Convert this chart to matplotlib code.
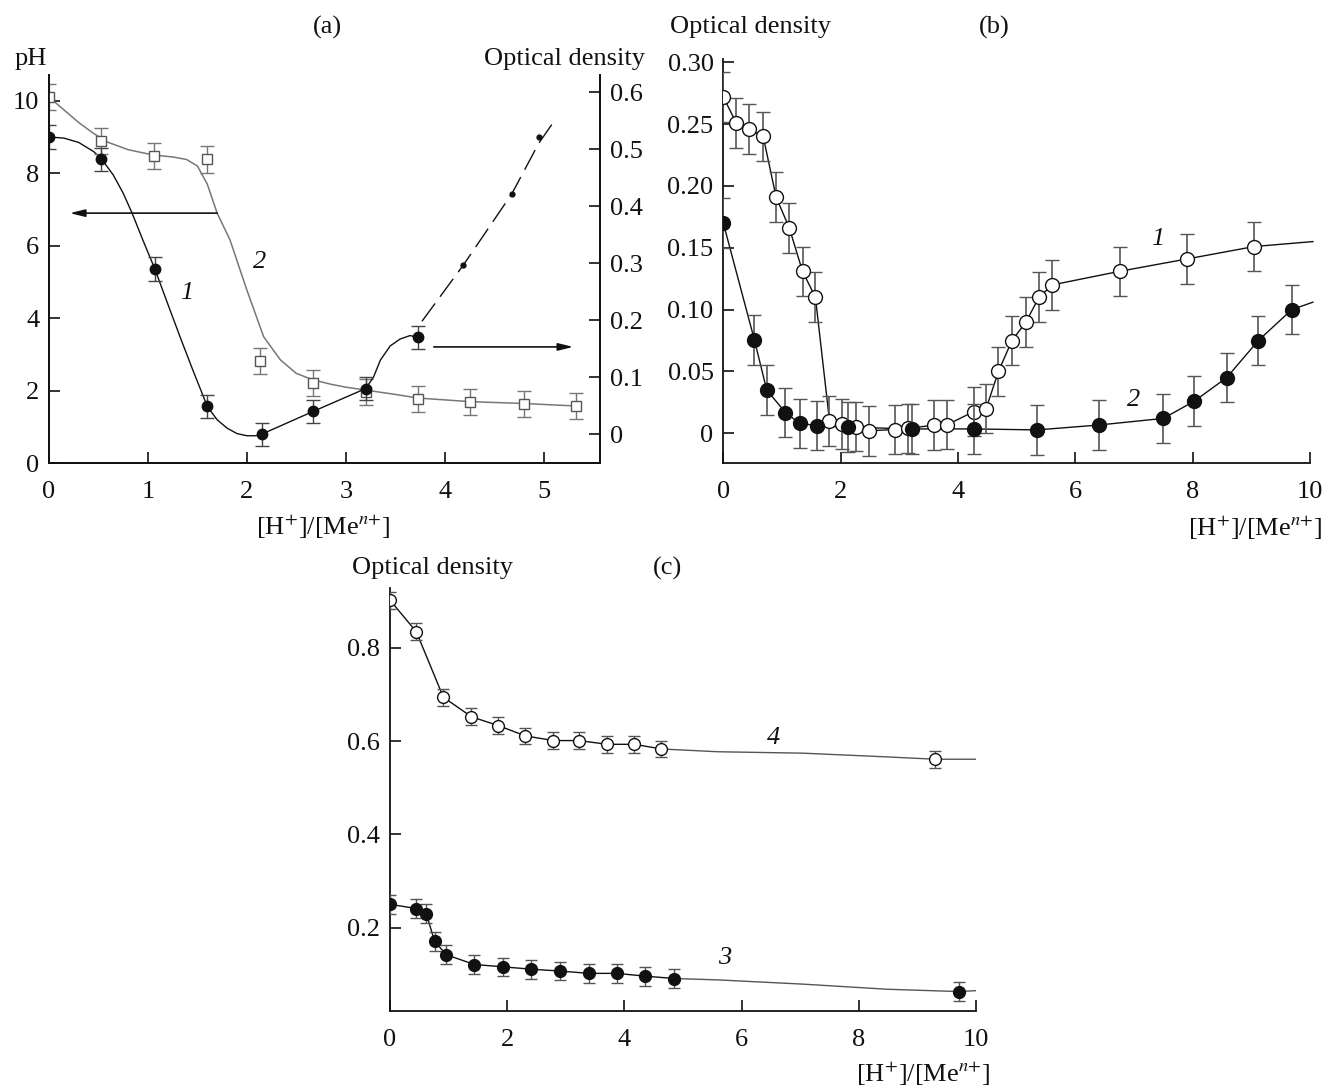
import matplotlib
matplotlib.use('Agg')
import matplotlib.pyplot as plt

plt.rcParams['font.family'] = ['Liberation Serif', 'DejaVu Serif']
plt.rcParams['mathtext.fontset'] = 'stix'

FS = 19
INK = '#111111'

# ---------------- panel (a) ----------------
# curve 1, filled circles: pH part (left axis)
a1_x = [0, 0.53, 1.07, 1.6]
a1_ph = [9.0, 8.38, 5.36, 1.57]
# curve 1, filled circles: optical density part (right axis)
a1_od_x = [2.15, 2.67, 3.2, 3.73]
a1_od = [0.0, 0.04, 0.08, 0.17]
# small dots on the dashed part
a1_dot_x = [4.19, 4.68, 4.95]
a1_dot_od = [0.297, 0.422, 0.522]
# curve 2, open squares (pH)
a2_x = [0, 0.53, 1.06, 1.6, 2.13, 2.67, 3.2, 3.73, 4.26, 4.8, 5.33]
a2_ph = [10.1, 8.9, 8.48, 8.38, 2.82, 2.21, 1.97, 1.77, 1.68, 1.64, 1.59]

# drawn curves
a1_fit_x = [0, 0.15, 0.3, 0.45, 0.53, 0.65, 0.75, 0.84, 0.95, 1.07, 1.2, 1.33, 1.45,
            1.6, 1.7, 1.8, 1.9, 2.0, 2.08, 2.15]
a1_fit_ph = [9.0, 8.97, 8.85, 8.6, 8.4, 7.95, 7.45, 6.9, 6.15, 5.36, 4.4, 3.45, 2.6,
             1.57, 1.2, 0.97, 0.82, 0.76, 0.76, 0.78]
a1_fit_od_x = [2.15, 2.67, 3.2, 3.28, 3.35, 3.45, 3.55, 3.65, 3.73]
a1_fit_od = [0.0, 0.04, 0.08, 0.1, 0.13, 0.155, 0.167, 0.173, 0.17]
a1_dash_x = [3.77, 4.19, 4.68, 4.95, 5.13]
a1_dash_od = [0.198, 0.297, 0.422, 0.51, 0.555]
a2_fit_x = [0, 0.15, 0.3, 0.45, 0.6, 0.8, 1.06, 1.25, 1.39, 1.5, 1.6, 1.70, 1.83,
            2.0, 2.17, 2.34, 2.5, 2.67, 2.85, 3.0, 3.2, 3.5, 3.73, 4.26, 4.8, 5.33]
a2_fit_ph = [10.1, 9.75, 9.4, 9.1, 8.85, 8.65, 8.5, 8.45, 8.38, 8.2, 7.7, 6.9, 6.16,
             4.78, 3.49, 2.85, 2.48, 2.3, 2.18, 2.1, 2.02, 1.9, 1.8, 1.7, 1.65, 1.58]

# ---------------- panel (b) ----------------
b1_x = [0, 0.22, 0.44, 0.68, 0.90, 1.125, 1.35, 1.57, 1.81, 2.02, 2.26, 2.48, 2.93,
        3.15, 3.59, 3.82, 4.27, 4.48, 4.69, 4.92, 5.16, 5.38, 5.61, 6.76, 7.91, 9.05]
b1_y = [0.272, 0.251, 0.246, 0.240, 0.191, 0.166, 0.131, 0.110, 0.010, 0.0075, 0.0054,
        0.002, 0.003, 0.004, 0.0065, 0.007, 0.0175, 0.020, 0.050, 0.075, 0.090, 0.110,
        0.120, 0.131, 0.141, 0.151]
b2_x = [0, 0.53, 0.74, 1.06, 1.30, 1.60, 2.13, 3.21, 4.27, 5.35, 6.41, 7.50, 8.03,
        8.58, 9.12, 9.69]
b2_y = [0.170, 0.0755, 0.035, 0.0167, 0.008, 0.0062, 0.0049, 0.0035, 0.0035, 0.0027,
        0.0067, 0.012, 0.026, 0.045, 0.075, 0.100]
b1_end = (10.05, 0.155)
b2_end = (10.05, 0.106)

# ---------------- panel (c) ----------------
c3_x = [0, 0.45, 0.62, 0.76, 0.96, 1.44, 1.93, 2.41, 2.90, 3.40, 3.87, 4.36, 4.85, 9.71]
c3_y = [0.250, 0.241, 0.230, 0.171, 0.142, 0.121, 0.116, 0.111, 0.107, 0.102, 0.102,
        0.096, 0.091, 0.063]
c4_x = [0, 0.45, 0.91, 1.39, 1.85, 2.31, 2.79, 3.23, 3.70, 4.17, 4.63, 9.30]
c4_y = [0.902, 0.834, 0.694, 0.652, 0.633, 0.611, 0.601, 0.601, 0.593, 0.593, 0.583,
        0.561]
c3_fit_x = [4.85, 5.6, 7.04, 8.48, 9.71, 10.0]
c3_fit_y = [0.091, 0.088, 0.079, 0.068, 0.063, 0.065]
c4_fit_x = [4.63, 5.6, 7.04, 8.48, 9.30, 10.0]
c4_fit_y = [0.583, 0.577, 0.574, 0.566, 0.561, 0.561]

W, H = 1326, 1088
fig = plt.figure(figsize=(W / 100, H / 100), dpi=100)


def frac(x0, y0, x1, y1):
    return [x0 / W, 1 - y1 / H, (x1 - x0) / W, (y1 - y0) / H]


def ftext(x, y, s, **kw):
    fig.text(x / W, 1 - y / H, s, fontsize=FS, color=INK, va='center', **kw)


def style(ax):
    ax.tick_params(direction='in', length=8, width=1.2, labelsize=FS, colors=INK, pad=7)
    ax.tick_params(axis='x', pad=13)
    for s in ax.spines.values():
        s.set_linewidth(1.3)
        s.set_color(INK)


xlab = r'[H$^{+}$]/[Me$^{n{+}}$]'

# ---- (a) ----
axa = fig.add_axes(frac(49, 75, 600, 463.3))
axa2 = axa.twinx()
style(axa)
style(axa2)
axa.spines['top'].set_visible(False)
axa2.spines['top'].set_visible(False)
axa.set_xlim(0, 5.57)
axa.set_ylim(0, 10.71)
axa2.set_ylim(-0.051, 0.630)
axa.set_xticks([0, 1, 2, 3, 4, 5])
axa.set_yticks([0, 2, 4, 6, 8, 10])
axa2.set_yticks([0, 0.1, 0.2, 0.3, 0.4, 0.5, 0.6])
axa2.set_yticklabels(['0', '0.1', '0.2', '0.3', '0.4', '0.5', '0.6'])

axa.plot(a2_fit_x, a2_fit_ph, color='#777777', lw=1.1)
axa.errorbar(a2_x, a2_ph, yerr=0.36, fmt='s', ms=6.5, mfc='white', mec='#555555',
             mew=1.0, ecolor='#777777', elinewidth=1.0, capsize=5, zorder=3)
axa.plot(a1_fit_x, a1_fit_ph, color=INK, lw=1.0)
axa.errorbar(a1_x, a1_ph, yerr=0.32, fmt='o', ms=7.5, color=INK, ecolor='#444444',
             elinewidth=1.0, capsize=5, zorder=4)
axa2.plot(a1_fit_od_x, a1_fit_od, color=INK, lw=1.0)
axa2.errorbar(a1_od_x, a1_od, yerr=0.02, fmt='o', ms=7.5, color=INK, ecolor='#444444',
              elinewidth=1.0, capsize=5, zorder=4)
axa2.plot(a1_dash_x, a1_dash_od, color=INK, lw=1.0, dashes=(16, 6))
axa2.plot(a1_dot_x, a1_dot_od, 'o', ms=3.5, color=INK)

arrow = dict(arrowstyle='-|>,head_length=0.9,head_width=0.22', color=INK, lw=1.2,
             shrinkA=0, shrinkB=0)
axa.annotate('', xy=(0.21, 6.9), xytext=(1.70, 6.9), arrowprops=arrow)
axa.annotate('', xy=(5.30, 3.21), xytext=(3.89, 3.21), arrowprops=arrow)
axa.text(1.39, 4.69, '1', fontsize=FS, style='italic', color=INK, ha='center', va='center')
axa.text(2.13, 5.56, '2', fontsize=FS, style='italic', color=INK, ha='center', va='center')

ftext(327, 27, '(a)', ha='center')
ftext(31, 59, 'pH', ha='center')
ftext(645, 59, 'Optical density', ha='right')
ftext(323, 527, xlab, ha='center')

# ---- (b) ----
axb = fig.add_axes(frac(723.3, 59.3, 1310, 463.3))
style(axb)
axb.spines['top'].set_visible(False)
axb.spines['right'].set_visible(False)
axb.set_xlim(0, 10)
axb.set_ylim(-0.0243, 0.3024)
axb.set_xticks([0, 2, 4, 6, 8, 10])
axb.set_yticks([0, 0.05, 0.10, 0.15, 0.20, 0.25, 0.30])
axb.set_yticklabels(['0', '0.05', '0.10', '0.15', '0.20', '0.25', '0.30'])

axb.plot(b1_x + [b1_end[0]], b1_y + [b1_end[1]], color=INK, lw=1.0, clip_on=False)
axb.plot(b2_x + [b2_end[0]], b2_y + [b2_end[1]], color=INK, lw=1.0, clip_on=False)
axb.errorbar(b1_x, b1_y, yerr=0.02, fmt='o', ms=10, mfc='white', mec=INK, mew=1.0,
             ecolor='#555555', elinewidth=1.2, capsize=5, zorder=3)
axb.errorbar(b2_x, b2_y, yerr=0.02, fmt='o', ms=10, color=INK, ecolor='#555555',
             elinewidth=1.2, capsize=5, zorder=4)
axb.text(7.4, 0.157, '1', fontsize=FS, style='italic', color=INK, ha='center', va='center')
axb.text(7.0, 0.027, '2', fontsize=FS, style='italic', color=INK, ha='center', va='center')

ftext(751, 27, 'Optical density', ha='center')
ftext(994, 27, '(b)', ha='center')
ftext(1322, 528, xlab, ha='right')

# ---- (c) ----
axc = fig.add_axes(frac(390, 588, 976, 1010.7))
style(axc)
axc.spines['top'].set_visible(False)
axc.spines['right'].set_visible(False)
axc.set_xlim(0, 10)
axc.set_ylim(0.022, 0.928)
axc.set_xticks([0, 2, 4, 6, 8, 10])
axc.set_yticks([0.2, 0.4, 0.6, 0.8])
axc.set_yticklabels(['0.2', '0.4', '0.6', '0.8'])

axc.plot(c4_x[:-1], c4_y[:-1], color=INK, lw=1.0)
axc.plot(c4_fit_x, c4_fit_y, color='#555555', lw=1.0)
axc.plot(c3_x[:-1], c3_y[:-1], color=INK, lw=1.0)
axc.plot(c3_fit_x, c3_fit_y, color='#555555', lw=1.0)
axc.errorbar(c4_x, c4_y, yerr=0.018, fmt='o', ms=8.5, mfc='white', mec=INK, mew=1.0,
             ecolor='#555555', elinewidth=1.0, capsize=4, zorder=3)
axc.errorbar(c3_x, c3_y, yerr=0.02, fmt='o', ms=8.5, color=INK, ecolor='#555555',
             elinewidth=1.0, capsize=4, zorder=4)
axc.text(6.54, 0.606, '4', fontsize=FS, style='italic', color=INK, ha='center', va='center')
axc.text(5.71, 0.135, '3', fontsize=FS, style='italic', color=INK, ha='center', va='center')

ftext(432, 568, 'Optical density', ha='center')
ftext(667, 568, '(c)', ha='center')
ftext(990, 1074, xlab, ha='right')

fig.savefig('out.png', dpi=100)
